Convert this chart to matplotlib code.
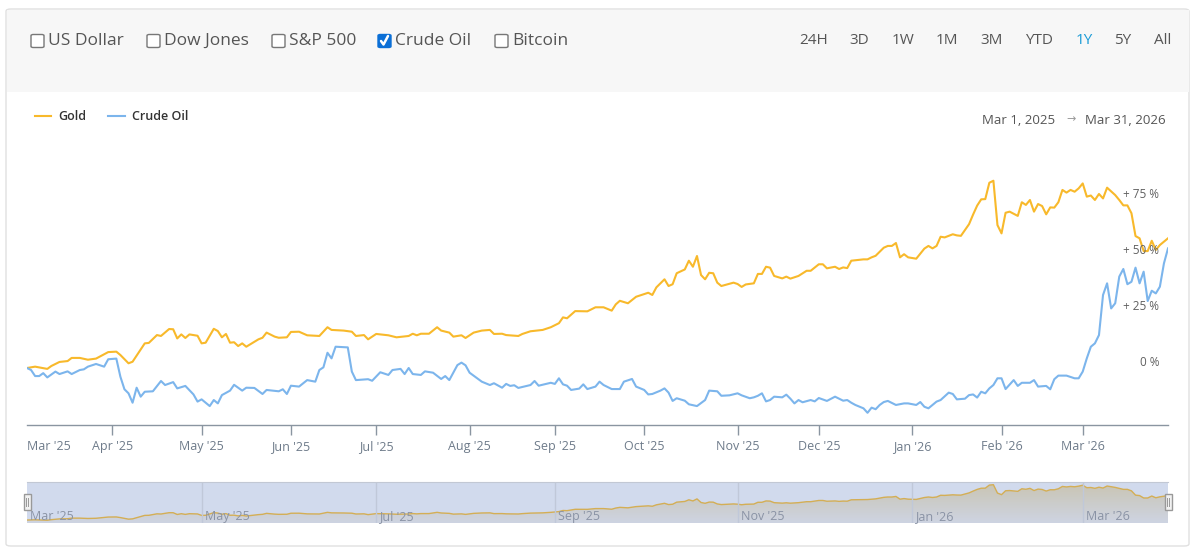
import matplotlib.pyplot as plt
import numpy as np
import pandas as pd
from matplotlib import patches
from matplotlib.colors import LinearSegmentedColormap
from matplotlib.lines import Line2D

W, H = 1200, 556

# trading days since Mar 3 2025 (ordinal axis) and % change vs first day
gold_day = [0, 2, 5, 6, 8, 10, 11, 13, 15, 17, 20, 22, 23, 25, 26, 29, 30, 32, 33, 35,
            36, 37, 38, 39, 40, 42, 43, 44, 46, 47, 48, 49, 50, 51, 52, 53, 54, 57, 58, 59,
            61, 62, 64, 65, 67, 69, 72, 74, 75, 78, 80, 81, 83, 84, 86, 89, 91, 94, 95, 96,
            97, 99, 101, 102, 104, 105, 107, 108, 110, 112, 114, 115, 117, 118, 121, 122, 124, 127, 129, 131,
            132, 133, 135, 138, 140, 142, 144, 145, 146, 148, 150, 153, 154, 155, 157, 158, 159, 160, 162, 163,
            164, 165, 166, 167, 168, 169, 170, 171, 174, 175, 176, 177, 179, 180, 181, 182, 183, 184, 186, 187,
            188, 190, 192, 193, 195, 196, 197, 199, 200, 201, 202, 203, 206, 207, 208, 209, 211, 212, 213, 214,
            215, 216, 217, 219, 221, 222, 223, 224, 225, 226, 228, 229, 230, 232, 233, 234, 235, 236, 237, 238,
            239, 240, 241, 242, 244, 245, 246, 247, 248, 249, 250, 251, 252, 253, 254, 255, 256, 257, 258, 259,
            260, 261, 262, 263, 264, 265, 266, 268, 269, 270, 271, 272, 273, 274, 275, 276, 277, 278, 279, 280,
            281]
gold_pct = [0, 0.6, -0.4, 0.9, 2.7, 3.1, 4.5, 4.5, 3.7, 4.2, 7.1, 7.3, 5.8, 2.1, 2.8, 11, 11.2, 14.7, 14.3, 17.4,
            17.3, 13.2, 15, 13.4, 15, 14.4, 11, 11.3, 17.5, 16.5, 13.7, 15.2, 11.3, 11.5, 9.8, 11, 9.5, 12.8, 13.5, 15.8,
            14, 13.5, 13.7, 16.1, 16.2, 14.6, 14.3, 18.2, 17, 16.7, 16.2, 14.3, 14.7, 12.8, 15.2, 14.6, 13.7, 14.3, 15.3, 14.6,
            15.3, 15.3, 18.2, 16.7, 15.8, 14, 14.6, 13.4, 15.8, 16.7, 17, 15.2, 15.3, 14.7, 14.3, 15.2, 16.4, 17, 18.2, 20,
            22.6, 22.2, 25.4, 25.3, 27.1, 27.1, 25.6, 28.4, 30, 28.9, 31.8, 33.6, 32.6, 36, 39.6, 36.6, 37.4, 42.3, 44, 47.9,
            45.2, 50, 41.5, 39.6, 42.5, 42.3, 38.1, 36.6, 38.1, 37.5, 36.2, 37.3, 37.8, 42, 42, 45.2, 44.8, 41.1, 40, 40.8,
            39.9, 41.1, 43.4, 43.4, 46.3, 46.3, 44.5, 45.2, 44.2, 44.9, 44.6, 47.9, 48.5, 48.5, 49.4, 50.1, 53.7, 54.5, 54.5, 55.8,
            49.4, 50.8, 49.4, 48.8, 53.3, 54.5, 53.4, 54.5, 58.6, 58.3, 59.7, 59.2, 59, 64.2, 68.5, 72.5, 75.3, 75.4, 82.7, 83.6,
            63.8, 60.1, 69.3, 69.8, 67.9, 74, 72.8, 75, 69.8, 73.2, 72.3, 68.6, 71.7, 71.6, 74, 79.5, 78.3, 79.5, 78.7, 80.2,
            82.4, 76.5, 77, 75, 77.7, 75.7, 80.5, 77.2, 75, 72.6, 72.6, 69.1, 58.9, 57.9, 52.2, 52.2, 56.8, 52.7, 54.9, 56.4,
            57.9]

oil_day = [0, 1, 2, 3, 4, 5, 7, 8, 10, 11, 13, 14, 15, 17, 19, 20, 22, 23, 24, 25,
           26, 27, 28, 29, 31, 33, 34, 36, 37, 39, 41, 42, 43, 45, 46, 47, 48, 50, 51, 53,
           54, 56, 58, 59, 62, 63, 64, 65, 67, 69, 71, 72, 73, 74, 75, 76, 79, 80, 81, 84,
           85, 87, 89, 90, 92, 93, 94, 95, 97, 98, 100, 102, 103, 104, 106, 107, 108, 109, 112, 114,
           115, 117, 118, 119, 120, 121, 124, 125, 126, 129, 130, 131, 132, 133, 134, 136, 137, 138, 140, 141,
           142, 144, 146, 147, 149, 150, 152, 153, 154, 156, 157, 158, 159, 160, 162, 163, 165, 167, 168, 170,
           171, 173, 175, 176, 178, 179, 180, 181, 182, 183, 184, 186, 187, 188, 189, 190, 191, 193, 194, 195,
           197, 199, 201, 202, 203, 204, 206, 207, 208, 209, 210, 211, 212, 214, 216, 217, 219, 220, 221, 222,
           224, 225, 227, 228, 229, 231, 232, 233, 234, 235, 236, 237, 238, 239, 240, 241, 243, 244, 245, 247,
           248, 249, 251, 252, 253, 254, 256, 258, 259, 260, 261, 262, 263, 264, 265, 266, 267, 268, 269, 270,
           271, 272, 273, 274, 275, 276, 277, 278, 279, 280, 281]
oil_pct = [0, -0.9, -3.6, -3.6, -2.3, -4.2, -1.6, -2.7, -1.5, -2.7, -0.9, -0.6, 0.6, 1.8, 0.6, 3.9, 4.2, -3.9, -9.5, -11.3,
           -15.5, -8.8, -12.8, -10.6, -10.4, -5.8, -7.6, -6.3, -9.1, -8, -11.8, -15, -14, -17, -14.3, -15.8, -12.1, -10.1, -7.5, -10.1,
           -8.8, -8.9, -11.6, -9.8, -10.4, -9.5, -11.6, -7.9, -8.3, -5.4, -6.1, -0.9, 0.3, 6.8, 4.3, 9.5, 9.2, -1.6, -5.4, -5,
           -5.7, -1.9, -3.1, -0.9, -0.4, -2.7, 0, -2.7, -3.1, -1.5, -2.1, -4.9, -3.6, -5.4, 1.3, 2.4, 1.2, -2.1, -6.1, -7.6,
           -6.8, -8.8, -7.1, -8, -7.7, -8.9, -7.6, -5.8, -7.9, -6.6, -7.1, -4.6, -7.3, -7.9, -9.8, -9.2, -7.3, -9.4, -8.3, -6.1,
           -7.6, -9.4, -9.4, -6.1, -4.9, -8.3, -9.8, -11.8, -11.6, -10.1, -9.1, -11, -14.7, -13.5, -14.6, -16.2, -17, -14.3, -10.1, -10.4,
           -12.4, -12.2, -11.3, -12.2, -13.5, -13.1, -12.4, -11.3, -14.9, -14.3, -12.8, -13.1, -11.9, -13.7, -15.8, -14.3, -15.3, -14.3, -14.9, -13.4,
           -14.7, -12.8, -14.6, -14.3, -15.5, -16.5, -18, -20, -17.7, -18.4, -16.5, -15.2, -14.7, -16.5, -15.8, -15.8, -16.5, -15.2, -17.3, -18,
           -15, -14.3, -11, -11.6, -14, -13.7, -12.1, -11.8, -13.2, -10.6, -11.3, -9.1, -7.6, -4.6, -4.6, -9.4, -5.4, -8, -6.6, -6.6,
           -5.4, -8.3, -8, -9.5, -5, -3.4, -3.4, -4.6, -4.6, -1.6, 4.3, 9.5, 11, 14.7, 32.6, 37.8, 26.6, 28.9, 40.8, 44.2,
           37.4, 38.5, 44.8, 37.8, 43, 29.9, 34.5, 33.3, 36.3, 46.7, 53.4]

series_names = ['Gold', 'Crude Oil']
checkbox_labels = ['US Dollar', 'Dow Jones', 'S&P 500', 'Crude Oil', 'Bitcoin']
checkbox_checked = [False, False, False, True, False]
range_buttons = ['24H', '3D', '1W', '1M', '3M', 'YTD', '1Y', '5Y', 'All']
range_active = '1Y'
y_ticks = [0, 25, 50, 75]
y_tick_labels = ['0 %', '+ 25 %', '+ 50 %', '+ 75 %']
date_from, date_to = 'Mar 1, 2025', 'Mar 31, 2026'

GOLD = '#f8b92b'
OIL = '#7cb5ec'
TXT = '#555555'
AXC = '#6e7b8a'

plt.rcParams['font.family'] = ['Open Sans', 'DejaVu Sans']


def fx(x):
    return x / W


def fy(y):
    return 1 - y / H


days = pd.bdate_range('2025-03-03', '2026-03-31')
month_pos = [i for i in range(1, len(days)) if days[i].month != days[i - 1].month]
month_lab = [days[i].strftime("%b '%y") for i in month_pos]

fig = plt.figure(figsize=(W / 100, H / 100), dpi=100)
fig.patch.set_facecolor('white')

# card + top panel (drawn beneath the axes)
card = patches.FancyBboxPatch((fx(6), fy(546)), fx(1183), (546 - 9) / H,
                              boxstyle='round,pad=0,rounding_size=0.004',
                              transform=fig.transFigure, facecolor='white',
                              edgecolor='#e0e0e0', lw=1, zorder=-2)
fig.patches.append(card)
panel = patches.Rectangle((fx(6.5), fy(92)), fx(1182), (92 - 9.5) / H,
                          transform=fig.transFigure, facecolor='#f7f7f7',
                          edgecolor='none', zorder=-1)
fig.patches.append(panel)

# checkboxes
box_x = [31, 147, 272, 378, 495]
for bx, lab, chk in zip(box_x, checkbox_labels, checkbox_checked):
    face = '#0b6fd6' if chk else 'white'
    edge = '#0b6fd6' if chk else '#777777'
    b = patches.FancyBboxPatch((fx(bx), fy(47.5)), 13 / W, 13 / H,
                               boxstyle='round,pad=0,rounding_size=0.002',
                               transform=fig.transFigure, facecolor=face,
                               edgecolor=edge, lw=1, zorder=2)
    fig.patches.append(b)
    if chk:
        fig.lines.append(Line2D([fx(bx + 3), fx(bx + 5.5), fx(bx + 10)],
                                [fy(41), fy(44.5), fy(36)], color='white', lw=1.8,
                                transform=fig.transFigure, zorder=3,
                                solid_capstyle='round', solid_joinstyle='round'))
    fig.text(fx(bx + 17), fy(41), lab, fontsize=12.5, color=TXT, va='center', ha='left')

# range buttons
btn_x = [814, 859, 903, 947, 992, 1039, 1084, 1123, 1163]
for cx, lab in zip(btn_x, range_buttons):
    col = '#1a9bd7' if lab == range_active else TXT
    fig.text(fx(cx), fy(41), lab, fontsize=11, color=col, va='center', ha='center')

# legend
for (x0, x1, tx), name, col in zip([(35, 51, 58), (108, 125, 132)], series_names, [GOLD, OIL]):
    fig.lines.append(Line2D([fx(x0), fx(x1)], [fy(116), fy(116)], color=col, lw=1.5,
                            transform=fig.transFigure))
    fig.text(fx(tx), fy(116), name, fontsize=9, color='#333333', va='center',
             ha='left', fontweight='semibold')

fig.text(fx(982), fy(120), date_from, fontsize=9.5, color=TXT, va='center', ha='left')
fig.text(fx(1071), fy(120), '\u2192', fontsize=8, color='#999999', va='center', ha='center')
fig.text(fx(1166), fy(120), date_to, fontsize=9.5, color=TXT, va='center', ha='right')

# main chart
top, bot = 135, 425
ax = fig.add_axes([fx(27), fy(bot), (1168 - 27) / W, (bot - top) / H])
ax.set_xlim(0, len(days) - 1)
ax.set_ylim((368 - bot) * 25 / 56, (368 - top) * 25 / 56)
ax.set_facecolor('none')
for s in ['top', 'right', 'left']:
    ax.spines[s].set_visible(False)
ax.spines['bottom'].set_color('#8a95a1')
ax.spines['bottom'].set_linewidth(1)
ax.plot(gold_day, gold_pct, color=GOLD, lw=1.5, solid_joinstyle='round', zorder=3)
ax.plot(oil_day, oil_pct, color=OIL, lw=1.5, solid_joinstyle='round', zorder=4)
ax.set_yticks([])
ax.set_xticks(month_pos)
ax.set_xticklabels(month_lab, fontsize=9, color=AXC)
ax.tick_params(axis='x', length=7, width=1, color='#8a95a1', pad=3.5)
ax.annotate("Mar '25", xy=(0, 0), xycoords='axes fraction', xytext=(0, -21),
            textcoords='offset pixels', fontsize=9, color=AXC, ha='left', va='center')
for v, lab in zip(y_ticks, y_tick_labels):
    ax.annotate(lab, xy=(1, v), xycoords=('axes fraction', 'data'),
                xytext=(-9, 6), textcoords='offset pixels', ha='right', va='center',
                fontsize=8.5, color='#606060')

# navigator
ntop, nbot = 482, 523
nav = fig.add_axes([fx(27), fy(nbot), (1168 - 27) / W, (nbot - ntop) / H])
nav.set_facecolor('#d1daed')
area = nav.fill_between(gold_day, gold_pct, -7, facecolor='none', lw=0)
grad = np.linspace(1, 0, 64).reshape(-1, 1)
nav_cmap = LinearSegmentedColormap.from_list('navfill', ['#ced4e2', '#c9c4b2'])
im = nav.imshow(grad, extent=[0, len(days) - 1, -7, 90], aspect='auto', cmap=nav_cmap,
                zorder=1, interpolation='bilinear')
im.set_clip_path(area.get_paths()[0], transform=nav.transData)
nav.plot(gold_day, gold_pct, color='#d4ae55', lw=1, zorder=2)
nav.set_xlim(0, len(days) - 1)
nav.set_ylim(-7, 90)
for s in ['bottom', 'right', 'left']:
    nav.spines[s].set_visible(False)
nav.spines['top'].set_color('#c2c8d4')
nav.set_xticks([])
nav.set_yticks([])
nav_pos = [0] + month_pos[1::2]
for p in nav_pos:
    if p > 0:
        nav.axvline(p, color='#c0c8d9', lw=1, zorder=2.5)
    nav.annotate(days[p].strftime("%b '%y"), xy=(p, 0.15), xycoords=('data', 'axes fraction'),
                 xytext=(3, 0), textcoords='offset pixels', fontsize=9, color='#8a93a5',
                 ha='left', va='center', zorder=3)
for hx in [27, 1168]:
    h = patches.Rectangle((fx(hx - 3.5), fy(510)), 7 / W, 16 / H, transform=fig.transFigure,
                          facecolor='#f2f2f2', edgecolor='#999999', lw=1, zorder=5)
    fig.patches.append(h)
    for gx in [hx - 1, hx + 1]:
        fig.lines.append(Line2D([fx(gx), fx(gx)], [fy(506), fy(498)], color='#999999',
                                lw=0.7, transform=fig.transFigure, zorder=6))

fig.savefig('out.png', dpi=100)
